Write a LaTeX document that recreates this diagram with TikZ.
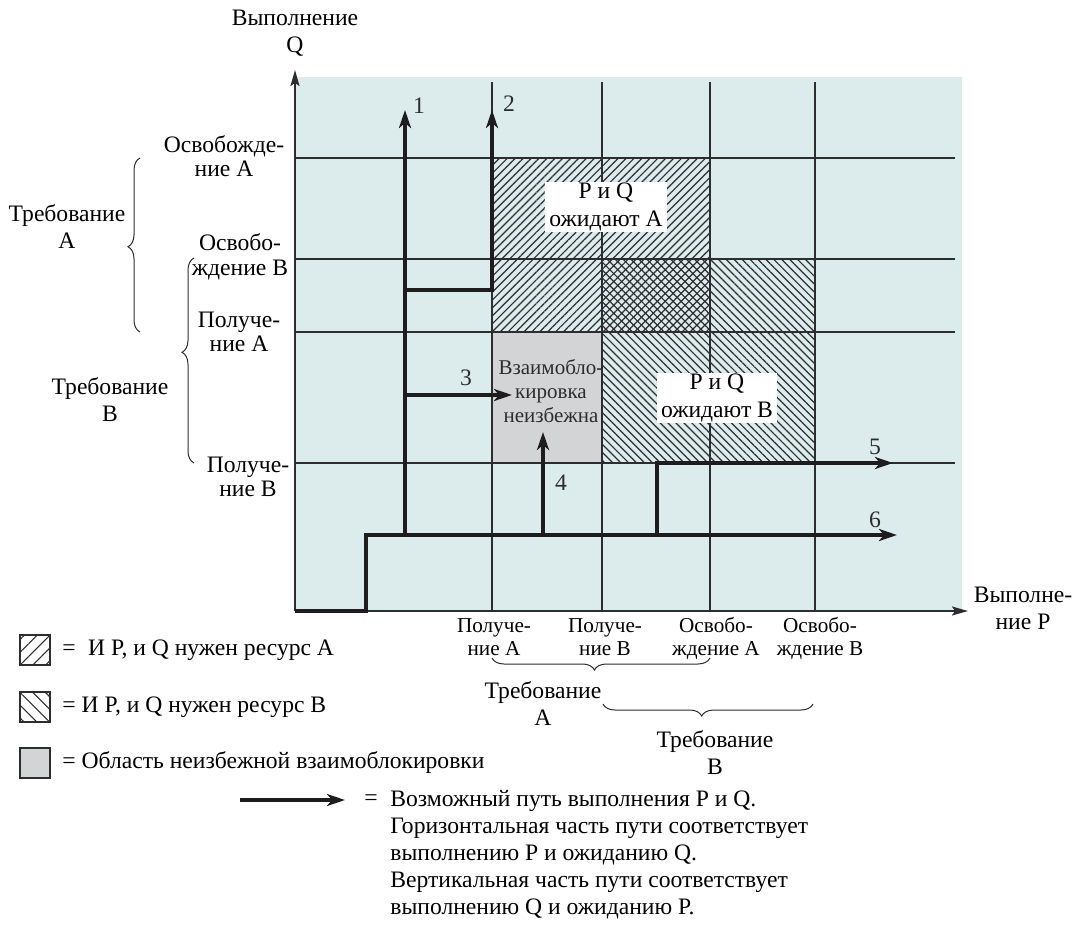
\documentclass[tikz,border=0pt]{standalone}
\usepackage{fontspec}
\setmainfont{Liberation Serif}
\usetikzlibrary{arrows.meta,patterns.meta,decorations.pathreplacing}

\definecolor{cbg}{RGB}{220,235,236}
\definecolor{cgrid}{RGB}{45,45,48}
\definecolor{cpath}{RGB}{30,28,29}
\definecolor{cdead}{RGB}{211,212,214}

\begin{document}
\begin{tikzpicture}[x=0.5pt, y=-0.5pt,
  font=\fontsize{11.8}{13.5}\selectfont,
  gridline/.style={cgrid, line width=0.65pt},
  axis/.style={-{Stealth[length=8pt,width=4.5pt,inset=1.5pt]}, cgrid, line width=1pt},
  run/.style={cpath, line width=1.9pt},
  runar/.style={run, -{Stealth[length=9pt,width=6pt,inset=2.5pt]}},
  hatchA/.style={pattern={Lines[angle=45,distance=2.8pt,line width=0.6pt]}, pattern color=cgrid},
  hatchB/.style={pattern={Lines[angle=-45,distance=2.8pt,line width=0.6pt]}, pattern color=cgrid},
  legA/.style={pattern={Lines[angle=45,distance=4.5pt,line width=0.55pt]}, pattern color=cgrid},
  legB/.style={pattern={Lines[angle=-45,distance=4.5pt,line width=0.55pt]}, pattern color=cgrid},
  tick/.style={align=center, font=\fontsize{11.8}{12.3}\selectfont, inner sep=0pt},
  ptick/.style={align=center, font=\fontsize{10.6}{11.5}\selectfont, inner sep=0pt},
  brc/.style={decorate, decoration={brace, amplitude=6pt, aspect=#1}, cgrid, line width=0.5pt},
  brc/.default=0.5,
  num/.style={text=cgrid, inner sep=0pt},
  wait/.style={fill=white, align=center, inner xsep=2pt, inner ysep=0.5pt,
               font=\fontsize{11.8}{14}\selectfont},
]
\useasboundingbox (0,0) rectangle (1084,927);

% --- plane, regions, grid ---------------------------------------------
\fill[cbg] (295,77) rectangle (962,611);
\fill[hatchA] (492,158) rectangle (710,332);
\fill[hatchB] (602,259) rectangle (815,463);
\fill[cdead] (492,332) rectangle (602,463);
\foreach \y in {158,259,332,463}
  \draw[gridline] (295,\y) -- (955,\y);
\foreach \x in {492,602,710,815}
  \draw[gridline] (\x,82) -- (\x,611);

% --- axes ---------------------------------------------------------------
\coordinate (O) at (295,611);
\coordinate (Qtop) at (295,70);
\coordinate (Pend) at (968,611);
\draw[axis] (O) -- (Qtop);
\draw[axis] (O) -- (Pend);
\node[align=center, inner sep=0pt] (qlab) at (295,33) {Выполнение\\Q};
\node[align=center, inner sep=0pt] (plab) at (1023,608) {Выполне-\\ние P};

% --- labels on the Q axis -------------------------------------------------
\node[tick] (qrelA) at (224,156) {Освобожде-\\ние A};
\node[tick] (qrelB) at (240,257) {Освобо-\\ждение B};
\node[tick] (qgetA) at (239,332) {Получе-\\ние A};
\node[tick] (qgetB) at (248,477) {Получе-\\ние B};
\draw[brc=0.49] (140,332) -- (140,158);
\draw[brc=0.54] (194,463) -- (194,258);
\node[align=center, inner sep=0pt] (qreqA) at (67,227) {Требование\\A};
\node[align=center, inner sep=0pt] (qreqB) at (110,400) {Требование\\B};

% --- labels on the P axis -------------------------------------------------
\node[ptick] (pgetA) at (494,637) {Получе-\\ние A};
\node[ptick] (pgetB) at (605,637) {Получе-\\ние B};
\node[ptick] (prelA) at (716,638) {Освобо-\\ждение A};
\node[ptick] (prelB) at (820,638) {Освобо-\\ждение B};
\draw[brc=0.53] (710,658) -- (492,658);
\draw[brc=0.53] (813,704) -- (603,704);
\node[align=center, inner sep=0pt] (preqA) at (543,704) {Требование\\A};
\node[align=center, inner sep=0pt] (preqB) at (715,753) {Требование\\B};

% --- region captions ------------------------------------------------------
\node[wait] (waitA) at (606,207) {P и Q\\ожидают A};
\node[wait] (waitB) at (717,398) {P и Q\\ожидают B};
\node[align=center, text=cgrid, inner sep=0pt, font=\fontsize{10.5}{12}\selectfont]
  (dead) at (551,391) {Взаимобло-\\кировка\\неизбежна};

% --- execution paths ------------------------------------------------------
\coordinate (s0) at (366,611);
\coordinate (s1) at (366,535);
\coordinate (e6) at (897,535);
\coordinate (b1) at (405,535);
\coordinate (e1) at (405,110);
\coordinate (b2) at (405,290);
\coordinate (k2) at (492,290);
\coordinate (e2) at (492,110);
\coordinate (b3) at (405,395);
\coordinate (e3) at (512,395);
\coordinate (b4) at (543,535);
\coordinate (e4) at (543,432);
\coordinate (b5) at (657,535);
\coordinate (k5) at (657,463);
\coordinate (e5) at (893,463);
\draw[runar] (O) -- (s0) -- (s1) -- (e6);
\draw[runar] (b1) -- (e1);
\draw[runar] (b2) -- (k2) -- (e2);
\draw[runar] (b3) -- (e3);
\draw[runar] (b4) -- (e4);
\draw[runar] (b5) -- (k5) -- (e5);
\node[num] (n1) at (419,106) {1};
\node[num] (n2) at (509,104) {2};
\node[num] (n3) at (466,378) {3};
\node[num] (n4) at (561,483) {4};
\node[num] (n5) at (875,447) {5};
\node[num] (n6) at (875,520) {6};

% --- legend ---------------------------------------------------------------
\draw[cgrid, line width=0.6pt, legA] (20,635) rectangle (50,665);
\draw[cgrid, line width=0.6pt, legB] (20,692) rectangle (50,722);
\draw[cgrid, line width=0.6pt, fill=cdead] (20,748) rectangle (50,778);
\node[anchor=west, inner sep=0pt] (legAt) at (62,650) {=\; И P, и Q нужен ресурс A};
\node[anchor=west, inner sep=0pt] (legBt) at (62,707) {= И P, и Q нужен ресурс B};
\node[anchor=west, inner sep=0pt] (legDt) at (62,763) {= Область неизбежной взаимоблокировки};
\coordinate (ls) at (240,800);
\coordinate (le) at (345,800);
\draw[runar] (ls) -- (le);
\node[inner sep=0pt] (legeq) at (371,800) {=};
\node[anchor=north west, align=left, inner sep=0pt] (legPt) at (390,790)
  {Возможный путь выполнения P и Q.\\
   Горизонтальная часть пути соответствует\\
   выполнению P и ожиданию Q.\\
   Вертикальная часть пути соответствует\\
   выполнению Q и ожиданию P.};
\end{tikzpicture}
\end{document}
